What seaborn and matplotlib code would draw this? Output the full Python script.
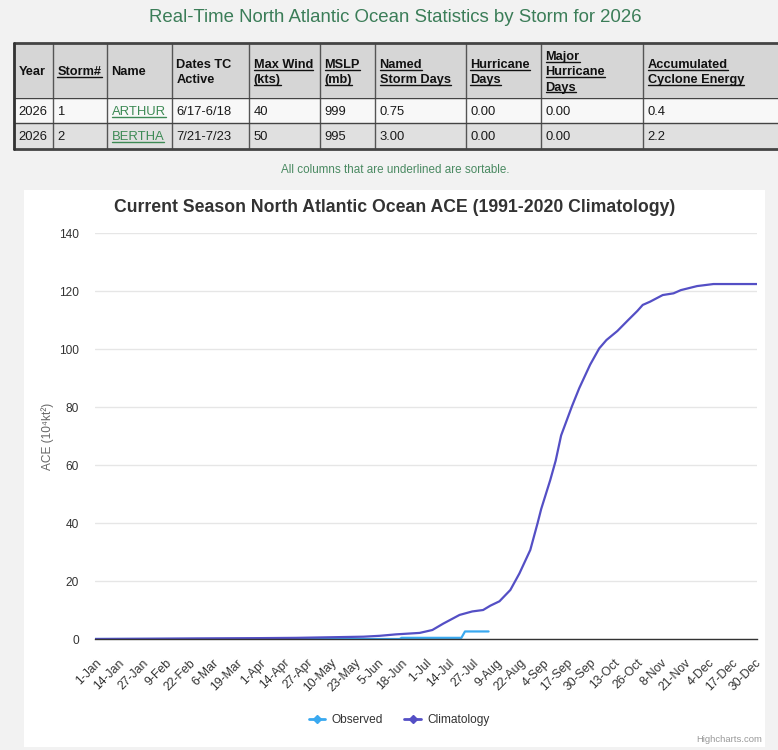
import matplotlib
matplotlib.use("Agg")
import matplotlib.pyplot as plt
import seaborn as sns
import pandas as pd
from matplotlib.patches import Rectangle
from matplotlib.lines import Line2D

# ---------------- data ----------------
page_title = "Real-Time North Atlantic Ocean Statistics by Storm for 2026"
table_headers = ["Year", "Storm#", "Name", "Dates TC\nActive", "Max Wind\n(kts)", "MSLP\n(mb)",
                 "Named\nStorm Days", "Hurricane\nDays", "Major\nHurricane\nDays",
                 "Accumulated\nCyclone Energy"]
header_sortable = [False, True, False, False, True, True, True, True, True, True]
years = ["2026", "2026"]
storm_nums = ["1", "2"]
storm_names = ["ARTHUR", "BERTHA"]
dates_active = ["6/17-6/18", "7/21-7/23"]
max_wind = ["40", "50"]
mslp = ["999", "995"]
named_storm_days = ["0.75", "3.00"]
hurricane_days = ["0.00", "0.00"]
major_hurricane_days = ["0.00", "0.00"]
ace_values = ["0.4", "2.2"]
note_text = "All columns that are underlined are sortable."

chart_title = "Current Season North Atlantic Ocean ACE (1991-2020 Climatology)"
y_label = "ACE (10\u2074kt\u00b2)"
y_ticks = [0, 20, 40, 60, 80, 100, 120, 140]
x_tick_labels = ["1-Jan", "14-Jan", "27-Jan", "9-Feb", "22-Feb", "6-Mar", "19-Mar", "1-Apr",
                 "14-Apr", "27-Apr", "10-May", "23-May", "5-Jun", "18-Jun", "1-Jul", "14-Jul",
                 "27-Jul", "9-Aug", "22-Aug", "4-Sep", "17-Sep", "30-Sep", "13-Oct", "26-Oct",
                 "8-Nov", "21-Nov", "4-Dec", "17-Dec", "30-Dec"]

# day of (leap) year index, ACE value
clim_days = [0, 30, 56, 90, 111, 130, 148, 157, 166, 179, 186, 192, 201, 208, 214, 218, 223,
             229, 234, 240, 244, 246, 251, 254, 257, 263, 267, 273, 278, 282, 288, 294, 299,
             302, 306, 313, 319, 323, 332, 341, 365]
clim_ace = [0.0, 0.1, 0.2, 0.3, 0.4, 0.6, 0.8, 1.1, 1.6, 2.1, 3.1, 5.3, 8.3, 9.5, 10.0, 11.5,
            13.0, 16.9, 22.6, 30.7, 39.9, 44.8, 54.8, 61.5, 70.2, 80.3, 86.5, 94.6, 100.2,
            103.1, 106.2, 110.0, 113.1, 115.2, 116.3, 118.6, 119.2, 120.3, 121.7, 122.4, 122.4]
obs_days = [0, 168, 169, 202, 204, 217]
obs_ace = [0.0, 0.0, 0.4, 0.4, 2.6, 2.6]

# ---------------- style ----------------
W, H = 778, 750
OBS = "#3aa9f0"
CLIM = "#544fc5"
GREEN = "#3b7d58"

sns.set_theme(style="white")
plt.rcParams['font.family'] = ['Liberation Sans', 'DejaVu Sans']
NARROW = ['Liberation Sans Narrow', 'Liberation Sans', 'DejaVu Sans']


def fx(x):
    return x / W


def fy(y):
    return 1 - y / H


fig = plt.figure(figsize=(W / 100, H / 100), dpi=100)
fig.patch.set_facecolor("#f2f2f2")

# page title
fig.text(fx(395), fy(18), page_title, ha="center", va="center", fontsize=13.4,
         color=GREEN, family=NARROW)

# ---------------- table ----------------
col_edges = [14, 53, 107, 172, 249, 320, 375, 466, 541, 643, 779]
row_edges = [43, 97.5, 123, 148.5]
row_bg = ["#d6d6d6", "#f8f8f8", "#e0e0e0"]
for r in range(3):
    fig.add_artist(Rectangle((fx(col_edges[0]), fy(row_edges[r + 1])),
                             (col_edges[-1] - col_edges[0]) / W,
                             (row_edges[r + 1] - row_edges[r]) / H,
                             transform=fig.transFigure, facecolor=row_bg[r],
                             edgecolor="none", zorder=1))
for xe in col_edges:
    fig.add_artist(Line2D([fx(xe), fx(xe)], [fy(row_edges[0]), fy(row_edges[-1])],
                          transform=fig.transFigure, color="#555555", lw=1.0, zorder=2))
for i, ye in enumerate(row_edges):
    fig.add_artist(Line2D([fx(col_edges[0]), fx(col_edges[-1])], [fy(ye), fy(ye)],
                          transform=fig.transFigure, color="#444444",
                          lw=2.0 if i in (0, len(row_edges) - 1) else 1.0, zorder=2))
fig.add_artist(Line2D([fx(col_edges[0]), fx(col_edges[0])], [fy(row_edges[0]), fy(row_edges[-1])],
                      transform=fig.transFigure, color="#333333", lw=2.0, zorder=2))

underlined = []
head_center = 70.8
line_gap = 15.2
for c, head in enumerate(table_headers):
    lines = head.split("\n")
    n = len(lines)
    for i, ln in enumerate(lines):
        yy = head_center + (i - (n - 1) / 2) * line_gap
        t = fig.text(fx(col_edges[c] + 4.5), fy(yy), ln, ha="left", va="center_baseline",
                     fontsize=9.2, fontweight="bold", color="#111111", family=NARROW, zorder=3)
        if header_sortable[c]:
            underlined.append((t, "#111111"))

row_y = [110.7, 136]
columns = [years, storm_nums, storm_names, dates_active, max_wind, mslp,
           named_storm_days, hurricane_days, major_hurricane_days, ace_values]
for r in range(len(years)):
    for c, col in enumerate(columns):
        is_link = c == 2
        t = fig.text(fx(col_edges[c] + 4.5), fy(row_y[r]), col[r], ha="left",
                     va="center_baseline", fontsize=9.4, color="#3d8a55" if is_link else "#1a1a1a",
                     family=NARROW, zorder=3)
        if is_link:
            underlined.append((t, "#3d8a55"))

fig.text(fx(395), fy(170), note_text, ha="center", va="center", fontsize=8.4,
         color="#4a8a62", family=NARROW)

# ---------------- chart card ----------------
fig.add_artist(Rectangle((fx(24), fy(747)), (765 - 24) / W, (747 - 190) / H,
                         transform=fig.transFigure, facecolor="white", edgecolor="none",
                         zorder=-1))

ax = fig.add_axes([fx(95), fy(639), (757 - 95) / W, (639 - 233) / H])
ax.set_facecolor("white")

obs_df = pd.DataFrame({"day": obs_days, "ace": obs_ace})
clim_df = pd.DataFrame({"day": clim_days, "ace": clim_ace})
sns.lineplot(data=obs_df, x="day", y="ace", ax=ax, color=OBS, lw=1.6, zorder=3)
sns.lineplot(data=clim_df, x="day", y="ace", ax=ax, color=CLIM, lw=1.6, zorder=4)

x_tick_pos = [pd.to_datetime(lab + "-2024", format="%d-%b-%Y").dayofyear - 1
              for lab in x_tick_labels]
ax.set_xlim(0, 365)
ax.set_ylim(0, 140)
ax.set_yticks(y_ticks)
ax.set_yticklabels([str(v) for v in y_ticks])
ax.set_xticks(x_tick_pos)
ax.set_xticklabels(x_tick_labels, rotation=45, ha="right", va="top", rotation_mode="anchor")
ax.tick_params(axis="y", length=0, pad=11.5, labelsize=8.6, labelcolor="#333333")
ax.tick_params(axis="x", length=0, pad=13, labelsize=8.8, labelcolor="#333333")
ax.grid(axis="y", color="#e6e6e6", lw=1)
ax.grid(axis="x", visible=False)
for s in ["left", "right", "top"]:
    ax.spines[s].set_visible(False)
ax.spines["bottom"].set_color("#333333")
ax.spines["bottom"].set_linewidth(1)
ax.spines["bottom"].set_zorder(5)
ax.set_xlabel("")
ax.set_ylabel("")
ax.set_axisbelow(True)

fig.text(fx(48), fy(436), y_label, rotation=90, ha="center", va="center", fontsize=8.6,
         color="#666666")
fig.text(fx(395), fy(207), chart_title, ha="center", va="center", fontsize=12.7,
         fontweight="bold", color="#333333")

handles = [Line2D([], [], color=OBS, lw=2, marker="D", markersize=4.5),
           Line2D([], [], color=CLIM, lw=2, marker="D", markersize=4.5)]
ax.legend(handles, ["Observed", "Climatology"], loc="center", ncol=2,
          bbox_to_anchor=(fx(399), fy(720)), bbox_transform=fig.transFigure, frameon=False,
          fontsize=8.6, handlelength=1.4, handletextpad=0.5, columnspacing=1.8,
          labelcolor="#333333")

fig.text(fx(762), fy(739), "Highcharts.com", ha="right", va="center", fontsize=6.8,
         color="#999999")

# underline sortable headers / links
fig.canvas.draw()
renderer = fig.canvas.get_renderer()
for t, col in underlined:
    bb = t.get_window_extent(renderer)
    yb = bb.y0 + 1.2
    fig.add_artist(Line2D([bb.x0 / fig.bbox.width, bb.x1 / fig.bbox.width],
                          [yb / fig.bbox.height, yb / fig.bbox.height],
                          transform=fig.transFigure, color=col, lw=1.0, zorder=3))

fig.savefig("out.png", dpi=100, facecolor=fig.get_facecolor())
